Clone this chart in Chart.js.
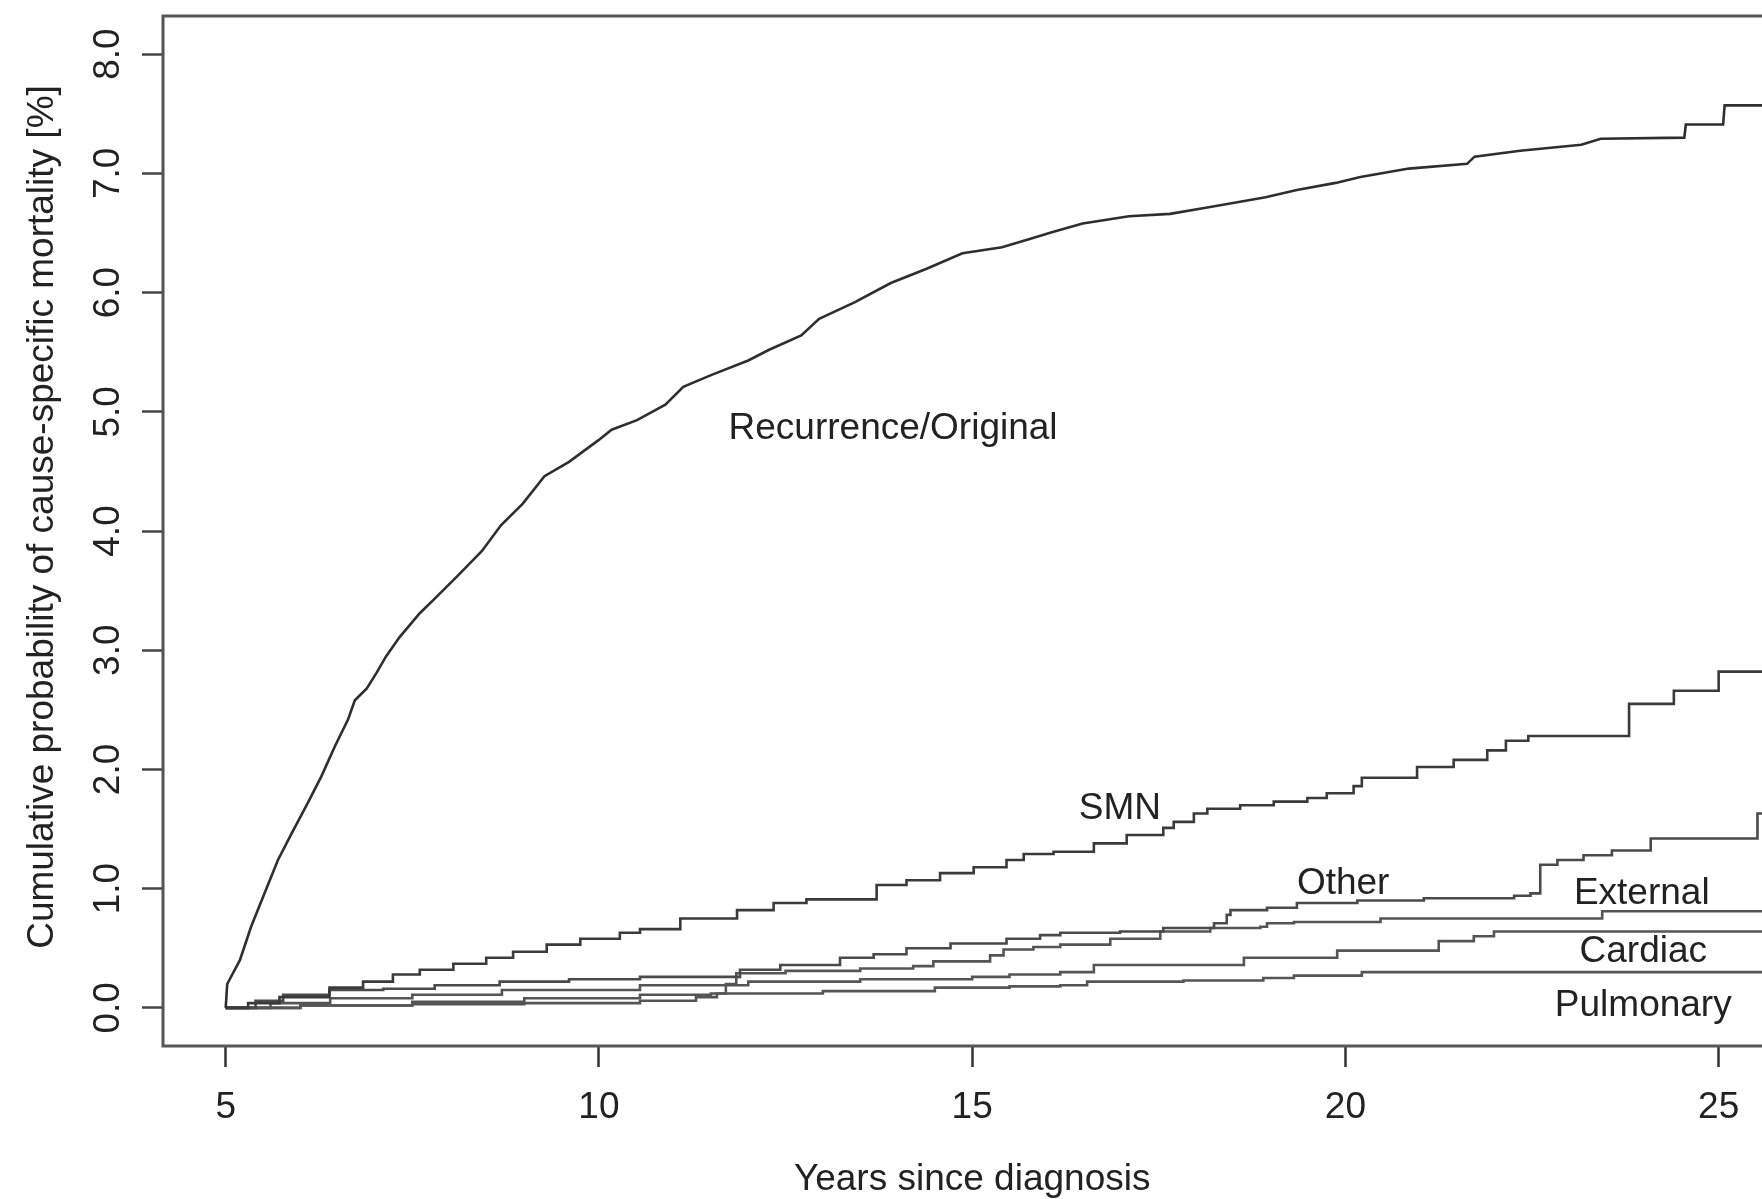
<!DOCTYPE html>
<html>
<head>
<meta charset="utf-8">
<script src="https://cdn.jsdelivr.net/npm/chart.js@4.4.1/dist/chart.umd.min.js"></script>
<style>
  html, body { margin: 0; padding: 0; overflow: hidden; background: #fff; }
  #wrap { position: absolute; left: 0; top: 0; width: 1870px; height: 1199px; }
</style>
</head>
<body>
<div id="wrap"><canvas id="cif"></canvas></div>
<script>
// cumulative probability of cause-specific mortality (%)
const recurX = [5.0, 5.02, 5.19, 5.34, 5.50, 5.70, 5.88, 6.10, 6.28, 6.46, 6.64, 6.73, 6.89, 7.02, 7.15, 7.33, 7.60, 7.78, 8.10, 8.43, 8.69, 8.98, 9.27, 9.60, 9.99, 10.17, 10.51, 10.89, 11.13, 11.51, 12.00, 12.28, 12.71, 12.95, 13.43, 13.91, 14.39, 14.87, 15.40, 15.77, 16.09, 16.48, 17.10, 17.65, 18.11, 18.57, 18.93, 19.35, 19.87, 20.20, 20.85, 21.63, 21.73, 22.34, 23.16, 23.42, 24.54, 24.56, 25.06, 25.08, 26.0];
const recurY = [0, 0.20, 0.40, 0.68, 0.93, 1.24, 1.46, 1.72, 1.94, 2.19, 2.42, 2.58, 2.68, 2.81, 2.95, 3.11, 3.31, 3.42, 3.62, 3.83, 4.05, 4.23, 4.46, 4.58, 4.76, 4.85, 4.93, 5.06, 5.21, 5.31, 5.43, 5.52, 5.64, 5.78, 5.92, 6.08, 6.20, 6.33, 6.38, 6.45, 6.51, 6.58, 6.64, 6.66, 6.71, 6.76, 6.80, 6.86, 6.92, 6.97, 7.04, 7.08, 7.14, 7.19, 7.24, 7.29, 7.30, 7.41, 7.41, 7.57, 7.57];

const smnX = [5.0, 5.30, 5.72, 6.39, 6.84, 7.24, 7.60, 8.05, 8.49, 8.85, 9.30, 9.75, 10.28, 10.55, 11.09, 11.85, 12.34, 12.78, 13.72, 14.12, 14.57, 15.02, 15.46, 15.69, 16.09, 16.63, 17.07, 17.56, 17.70, 17.97, 18.15, 18.59, 19.04, 19.49, 19.75, 20.11, 20.22, 20.96, 21.45, 21.90, 22.15, 22.45, 23.80, 24.40, 25.00, 26.0];
const smnY = [0, 0.04, 0.09, 0.17, 0.22, 0.28, 0.32, 0.37, 0.42, 0.47, 0.53, 0.58, 0.63, 0.66, 0.75, 0.82, 0.88, 0.91, 1.03, 1.07, 1.13, 1.18, 1.24, 1.29, 1.31, 1.38, 1.45, 1.51, 1.56, 1.63, 1.67, 1.70, 1.73, 1.76, 1.80, 1.86, 1.93, 2.02, 2.08, 2.16, 2.24, 2.28, 2.55, 2.66, 2.82, 2.82];

const otherX = [5.0, 5.40, 5.77, 6.39, 7.11, 7.80, 8.67, 9.60, 10.55, 11.89, 12.43, 13.23, 13.68, 14.12, 14.71, 15.46, 15.91, 16.18, 16.98, 17.56, 18.24, 18.41, 18.46, 18.95, 19.35, 20.16, 21.05, 22.26, 22.48, 22.61, 22.84, 23.19, 23.57, 24.09, 25.52, 26.0];
const otherY = [0, 0.06, 0.11, 0.15, 0.16, 0.19, 0.22, 0.24, 0.26, 0.32, 0.36, 0.42, 0.45, 0.50, 0.54, 0.58, 0.61, 0.63, 0.64, 0.67, 0.71, 0.78, 0.82, 0.84, 0.88, 0.90, 0.92, 0.94, 0.96, 1.20, 1.24, 1.28, 1.32, 1.42, 1.63, 1.63];

const extX = [5.0, 6.0, 7.5, 9.0, 10.55, 11.30, 11.58, 11.70, 11.84, 12.50, 13.50, 14.21, 14.48, 15.24, 15.42, 15.82, 16.18, 16.85, 17.52, 18.19, 18.86, 18.95, 19.31, 20.47, 23.44, 26.0];
const extY = [0, 0.02, 0.03, 0.04, 0.06, 0.09, 0.12, 0.20, 0.29, 0.31, 0.33, 0.35, 0.39, 0.44, 0.49, 0.51, 0.53, 0.58, 0.64, 0.67, 0.68, 0.71, 0.72, 0.75, 0.81, 0.81];

const cardX = [5.0, 5.60, 6.40, 7.50, 8.70, 10.55, 12.00, 13.50, 15.00, 15.50, 16.18, 16.63, 18.64, 19.89, 21.25, 21.72, 21.99, 26.0];
const cardY = [0, 0.04, 0.08, 0.11, 0.15, 0.19, 0.22, 0.24, 0.26, 0.28, 0.30, 0.36, 0.42, 0.48, 0.56, 0.60, 0.64, 0.64];

const pulmX = [5.0, 6.0, 7.5, 9.0, 10.55, 11.50, 13.00, 14.50, 15.50, 16.18, 16.54, 17.83, 18.90, 19.31, 20.22, 26.0];
const pulmY = [0, 0.02, 0.05, 0.08, 0.11, 0.12, 0.14, 0.17, 0.18, 0.19, 0.22, 0.23, 0.25, 0.27, 0.30, 0.30];

const xTicks = [5, 10, 15, 20, 25];
const yTicks = [0, 1, 2, 3, 4, 5, 6, 7, 8];

// curve labels, placed in data units like text() would
const causeNames = ['Recurrence/Original', 'SMN', 'Other', 'External', 'Cardiac', 'Pulmonary'];
const causeLabelX = [13.94, 16.98, 19.97, 23.97, 23.99, 23.99];
const causeLabelY = [4.86, 1.67, 1.04, 0.96, 0.47, 0.02];

const xTitle = 'Years since diagnosis';
const yTitle = 'Cumulative probability of cause-specific mortality [%]';

const FONT = '"Liberation Sans", Arial, sans-serif';

function pts(xs, ys) {
    return xs.map((x, i) => ({x: x, y: ys[i]}));
}

function curve(xs, ys, color, stepped) {
    return {
        data: pts(xs, ys),
        borderColor: color,
        borderWidth: 2.6,
        pointRadius: 0,
        fill: false,
        tension: 0,
        stepped: stepped
    };
}

const annotate = {
    id: 'annotate',
    afterDatasetsDraw(chart) {
        const ctx = chart.ctx;
        const a = chart.chartArea;
        const sx = chart.scales.x, sy = chart.scales.y;
        ctx.save();
        ctx.strokeStyle = '#555';
        ctx.lineWidth = 3;
        ctx.strokeRect(a.left, a.top, a.right - a.left, a.bottom - a.top);

        ctx.fillStyle = '#222';
        ctx.font = '37px ' + FONT;
        ctx.textAlign = 'center';
        ctx.textBaseline = 'middle';
        causeNames.forEach(function(n, i) {
            ctx.fillText(n, sx.getPixelForValue(causeLabelX[i]), sy.getPixelForValue(causeLabelY[i]));
        });

        ctx.fillText(xTitle, sx.getPixelForValue(15), 1180);
        ctx.translate(43, 517);
        ctx.rotate(-Math.PI / 2);
        ctx.fillText(yTitle, 0, 0);
        ctx.restore();
    }
};

document.addEventListener("DOMContentLoaded", function() {
    const c = document.getElementById('cif').getContext('2d');
    new Chart(c, {
        type: 'line',
        data: {
            datasets: [
                curve(recurX, recurY, '#2e2e2e', false),
                curve(smnX, smnY, '#3a3a3a', true),
                curve(otherX, otherY, '#4a4a4a', true),
                curve(extX, extY, '#555', true),
                curve(cardX, cardY, '#555', true),
                curve(pulmX, pulmY, '#555', true)
            ]
        },
        options: {
            responsive: true,
            maintainAspectRatio: false,
            animation: false,
            layout: { padding: { top: 16, right: 14, bottom: 0, left: 0 } },
            plugins: { legend: { display: false }, tooltip: { enabled: false } },
            scales: {
                x: {
                    type: 'linear',
                    min: 4.16,
                    max: 26.84,
                    afterBuildTicks: function(s) { s.ticks = xTicks.map(v => ({value: v})); },
                    afterFit: function(s) {
                        s.height = 153;
                        s.paddingLeft = 0; s.paddingRight = 0;
                    },
                    border: { display: false },
                    grid: { drawOnChartArea: false, drawTicks: true, tickLength: 21, tickColor: '#333', tickWidth: 2.5 },
                    ticks: { autoSkip: false, maxRotation: 0, padding: 19, color: '#222', font: { family: FONT, size: 37 } }
                },
                y: {
                    type: 'linear',
                    min: -0.32,
                    max: 8.32,
                    afterBuildTicks: function(s) { s.ticks = yTicks.map(v => ({value: v})); },
                    afterFit: function(s) {
                        s.width = 163;
                        s.paddingTop = 0; s.paddingBottom = 0;
                    },
                    border: { display: false },
                    grid: { drawOnChartArea: false, drawTicks: true, tickLength: 21, tickColor: '#444', tickWidth: 2.5 },
                    ticks: {
                        minRotation: 90,
                        maxRotation: 90,
                        crossAlign: 'center',
                        padding: 7,
                        color: '#222',
                        font: { family: FONT, size: 37 },
                        callback: function(v) { return v.toFixed(1); }
                    }
                }
            }
        },
        plugins: [annotate]
    });
});
</script>
</body>
</html>
